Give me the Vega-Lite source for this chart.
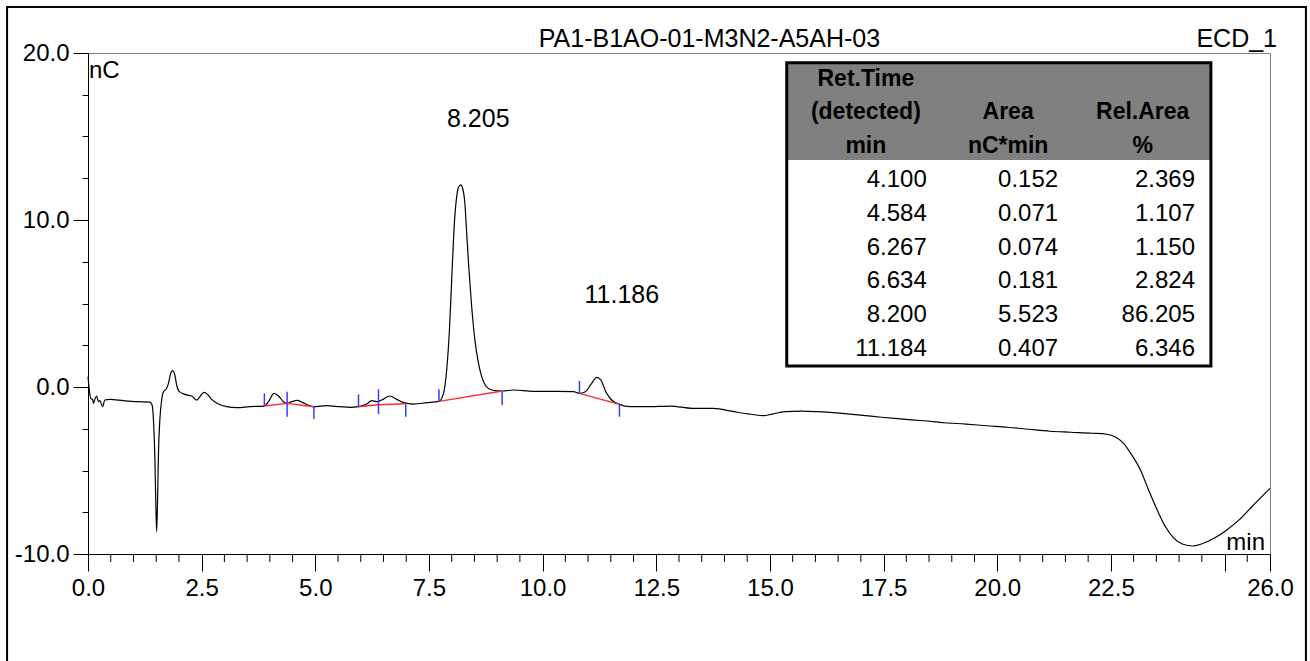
{
  "$schema": "https://vega.github.io/schema/vega-lite/v6.json",
  "width": 1182,
  "height": 501,
  "autosize": "none",
  "padding": {"left": 88, "top": 53, "right": 40, "bottom": 107},
  "background": "white",
  "config": {
    "view": {"stroke": "#808080", "strokeWidth": 1},
    "axis": {"domainColor": "black", "tickColor": "black", "labelColor": "black", "labelFont": "Liberation Sans", "labelFontSize": 24, "grid": false, "labelOverlap": false, "labelFlush": false, "labelBound": false},
    "text": {"font": "Liberation Sans", "color": "black"}
  },
  "data": {"values": [{}]},
  "datasets": {
    "trace": [
      {"t":0.00,"v":0.62},{"t":0.03,"v":-0.18},{"t":0.06,"v":-0.68},{"t":0.10,"v":-0.74},{"t":0.12,"v":-0.98},{"t":0.15,"v":-0.74},{"t":0.19,"v":-0.54},{"t":0.23,"v":-0.88},{"t":0.26,"v":-0.82},{"t":0.32,"v":-1.18},{"t":0.37,"v":-0.78},{"t":0.48,"v":-0.74},{"t":0.78,"v":-0.82},{"t":1.07,"v":-0.88},{"t":1.36,"v":-0.90},{"t":1.41,"v":-1.08},{"t":1.44,"v":-1.98},{"t":1.47,"v":-4.17},{"t":1.49,"v":-6.77},{"t":1.51,"v":-8.66},{"t":1.53,"v":-6.77},{"t":1.55,"v":-3.97},{"t":1.58,"v":-1.98},{"t":1.62,"v":-0.78},{"t":1.66,"v":-0.28},{"t":1.72,"v":-0.12},{"t":1.77,"v":0.22},{"t":1.82,"v":0.82},{"t":1.86,"v":0.98},{"t":1.91,"v":0.72},{"t":1.95,"v":0.12},{"t":2.01,"v":-0.28},{"t":2.13,"v":-0.44},{"t":2.28,"v":-0.54},{"t":2.39,"v":-0.78},{"t":2.46,"v":-0.58},{"t":2.55,"v":-0.32},{"t":2.63,"v":-0.44},{"t":2.72,"v":-0.74},{"t":2.87,"v":-1.02},{"t":3.05,"v":-1.18},{"t":3.27,"v":-1.24},{"t":3.56,"v":-1.18},{"t":3.87,"v":-1.14},{"t":3.97,"v":-0.88},{"t":4.09,"v":-0.38},{"t":4.19,"v":-0.54},{"t":4.30,"v":-0.88},{"t":4.38,"v":-0.98},{"t":4.48,"v":-0.88},{"t":4.60,"v":-0.80},{"t":4.72,"v":-0.92},{"t":4.85,"v":-1.10},{"t":4.97,"v":-1.18},{"t":5.25,"v":-1.12},{"t":5.54,"v":-1.18},{"t":5.76,"v":-1.22},{"t":5.95,"v":-1.18},{"t":6.13,"v":-1.02},{"t":6.24,"v":-0.82},{"t":6.35,"v":-0.88},{"t":6.46,"v":-0.78},{"t":6.64,"v":-0.54},{"t":6.79,"v":-0.74},{"t":6.94,"v":-0.94},{"t":7.16,"v":-1.02},{"t":7.45,"v":-0.94},{"t":7.72,"v":-0.86},{"t":7.82,"v":-0.38},{"t":7.89,"v":1.02},{"t":7.95,"v":3.41},{"t":8.00,"v":6.41},{"t":8.05,"v":9.40},{"t":8.11,"v":11.40},{"t":8.15,"v":11.96},{"t":8.20,"v":12.10},{"t":8.24,"v":11.90},{"t":8.29,"v":11.00},{"t":8.33,"v":9.20},{"t":8.38,"v":7.01},{"t":8.44,"v":4.81},{"t":8.51,"v":2.81},{"t":8.59,"v":1.42},{"t":8.66,"v":0.62},{"t":8.75,"v":0.06},{"t":8.88,"v":-0.18},{"t":9.11,"v":-0.24},{"t":9.36,"v":-0.18},{"t":9.80,"v":-0.26},{"t":10.31,"v":-0.26},{"t":10.68,"v":-0.28},{"t":10.81,"v":-0.38},{"t":10.93,"v":-0.30},{"t":11.08,"v":0.22},{"t":11.19,"v":0.58},{"t":11.28,"v":0.42},{"t":11.39,"v":-0.28},{"t":11.52,"v":-0.78},{"t":11.69,"v":-1.04},{"t":11.92,"v":-1.18},{"t":12.29,"v":-1.18},{"t":12.82,"v":-1.14},{"t":13.29,"v":-1.28},{"t":13.75,"v":-1.28},{"t":14.21,"v":-1.48},{"t":14.58,"v":-1.63},{"t":14.86,"v":-1.72},{"t":15.05,"v":-1.62},{"t":15.33,"v":-1.48},{"t":15.70,"v":-1.44},{"t":16.06,"v":-1.48},{"t":16.53,"v":-1.57},{"t":16.99,"v":-1.68},{"t":17.45,"v":-1.81},{"t":17.92,"v":-1.92},{"t":18.38,"v":-2.02},{"t":18.84,"v":-2.14},{"t":19.31,"v":-2.22},{"t":19.77,"v":-2.32},{"t":20.23,"v":-2.41},{"t":20.69,"v":-2.53},{"t":21.16,"v":-2.65},{"t":21.62,"v":-2.71},{"t":22.09,"v":-2.77},{"t":22.41,"v":-2.83},{"t":22.59,"v":-2.98},{"t":22.78,"v":-3.37},{"t":22.96,"v":-4.07},{"t":23.15,"v":-4.97},{"t":23.33,"v":-6.17},{"t":23.52,"v":-7.37},{"t":23.70,"v":-8.37},{"t":23.89,"v":-9.06},{"t":24.07,"v":-9.40},{"t":24.31,"v":-9.52},{"t":24.49,"v":-9.40},{"t":24.77,"v":-9.06},{"t":25.05,"v":-8.56},{"t":25.32,"v":-7.96},{"t":25.60,"v":-7.17},{"t":26.00,"v":-6.07}
    ],
    "minorticks": [
      {"t":0.5},{"t":1},{"t":1.5},{"t":2},{"t":3},{"t":3.5},{"t":4},{"t":4.5},{"t":5.5},{"t":6},{"t":6.5},{"t":7},{"t":8},{"t":8.5},{"t":9},{"t":9.5},{"t":10.5},{"t":11},{"t":11.5},{"t":12},{"t":13},{"t":13.5},{"t":14},{"t":14.5},{"t":15.5},{"t":16},{"t":16.5},{"t":17},{"t":18},{"t":18.5},{"t":19},{"t":19.5},{"t":20.5},{"t":21},{"t":21.5},{"t":22},{"t":23},{"t":23.5},{"t":24},{"t":24.5},{"t":25.5}
    ],
    "baselines": [
      {"seg":"A","t":3.87,"v":-1.14},{"seg":"A","t":4.38,"v":-0.98},{"seg":"A","t":4.97,"v":-1.18},
      {"seg":"B","t":5.95,"v":-1.18},{"seg":"B","t":6.39,"v":-1.06},{"seg":"B","t":6.99,"v":-1.00},
      {"seg":"C","t":7.72,"v":-0.86},{"seg":"C","t":9.11,"v":-0.24},
      {"seg":"D","t":10.81,"v":-0.38},{"seg":"D","t":11.69,"v":-1.04}
    ],
    "delimiters": [
      {"t":3.88,"top":-0.38,"bottom":-1.14},
      {"t":4.38,"top":-0.28,"bottom":-1.78},
      {"t":4.97,"top":-1.14,"bottom":-1.92},
      {"t":5.95,"top":-0.44,"bottom":-1.18},
      {"t":6.39,"top":-0.14,"bottom":-1.62},
      {"t":6.99,"top":-1.04,"bottom":-1.78},
      {"t":7.72,"top":-0.14,"bottom":-0.88},
      {"t":9.11,"top":-0.28,"bottom":-1.08},
      {"t":10.81,"top":0.36,"bottom":-0.42},
      {"t":11.69,"top":-1.04,"bottom":-1.78}
    ],
    "peaklabels": [
      {"rt":8.205,"apex":12.10,"label":"8.205"},
      {"rt":11.186,"apex":0.58,"label":"11.186"}
    ],
    "peaks": [
      {"No":1,"rt":4.100,"area":0.152,"rel":2.369},
      {"No":2,"rt":4.584,"area":0.071,"rel":1.107},
      {"No":3,"rt":6.267,"area":0.074,"rel":1.150},
      {"No":4,"rt":6.634,"area":0.181,"rel":2.824},
      {"No":5,"rt":8.200,"area":5.523,"rel":86.205},
      {"No":6,"rt":11.184,"area":0.407,"rel":6.346}
    ]
  },
  "resolve": {"scale": {"y": "independent"}},
  "layer": [
    {
      "layer": [
        {
          "mark": {"type": "rect", "fill": "white", "fillOpacity": 0, "stroke": "black", "strokeWidth": 2},
          "encoding": {
            "x": {"datum": -1.78}, "x2": {"datum": 26.79},
            "y": {"datum": 22.75}, "y2": {"datum": -20}
          }
        },
        {
          "data": {"name": "trace"},
          "mark": {"type": "line", "color": "black", "strokeWidth": 1.2, "interpolate": "monotone"},
          "encoding": {
            "x": {
              "field": "t", "type": "quantitative",
              "scale": {"domain": [0, 26], "nice": false, "zero": false},
              "axis": {
                "title": null,
                "labelOverlap": false,
                "values": [0,2.5,5,7.5,10,12.5,15,17.5,20,22.5,25,26],
                "tickSize": 17,
                "labelExpr": "datum.value === 25 ? '' : format(datum.value, '.1f')",
                "labelPadding": 5
              }
            },
            "y": {
              "field": "v", "type": "quantitative",
              "scale": {"domain": [-10, 20], "nice": false, "zero": false},
              "axis": {
                "title": null,
                "labelOverlap": false,
                "values": [-10,-7.5,-5,-2.5,0,2.5,5,7.5,10,12.5,15,17.5,20],
                "tickSize": {"condition": {"test": "round(datum.value * 10) % 100 === 0", "value": 15}, "value": 6},
                "labelExpr": "round(datum.value * 10) % 100 === 0 ? (datum.value < 0 ? '-' : '') + format(abs(datum.value), '.1f') : ''",
                "labelPadding": 4
              }
            }
          }
        },
        {
          "data": {"name": "minorticks"},
          "mark": {"type": "tick", "orient": "vertical", "size": 8, "thickness": 1, "color": "black", "yOffset": 4, "opacity": 1},
          "encoding": {
            "x": {"field": "t", "type": "quantitative"},
            "y": {"datum": -10}
          }
        },
        {
          "data": {"name": "baselines"},
          "mark": {"type": "line", "color": "#ff2a2a", "strokeWidth": 1.4},
          "encoding": {
            "x": {"field": "t", "type": "quantitative"},
            "y": {"field": "v", "type": "quantitative"},
            "detail": {"field": "seg"}
          }
        },
        {
          "data": {"name": "delimiters"},
          "mark": {"type": "rule", "color": "#3a3aff", "strokeWidth": 1.5},
          "encoding": {
            "x": {"field": "t", "type": "quantitative"},
            "y": {"field": "top", "type": "quantitative"},
            "y2": {"field": "bottom"}
          }
        },
        {
          "data": {"name": "peaklabels"},
          "transform": [{"filter": "datum.rt < 10"}],
          "mark": {"type": "text", "align": "left", "baseline": "alphabetic", "fontSize": 25, "dx": -14, "dy": -58},
          "encoding": {
            "x": {"field": "rt", "type": "quantitative"},
            "y": {"field": "apex", "type": "quantitative"},
            "text": {"field": "label"}
          }
        },
        {
          "data": {"name": "peaklabels"},
          "transform": [{"filter": "datum.rt > 10"}],
          "mark": {"type": "text", "align": "left", "baseline": "alphabetic", "fontSize": 25, "dx": -12, "dy": -74},
          "encoding": {
            "x": {"field": "rt", "type": "quantitative"},
            "y": {"field": "apex", "type": "quantitative"},
            "text": {"field": "label"}
          }
        },
        {
          "mark": {"type": "text", "align": "left", "baseline": "alphabetic", "fontSize": 24, "dx": 1, "dy": 25, "text": "nC"},
          "encoding": {"x": {"datum": 0}, "y": {"datum": 20}}
        },
        {
          "mark": {"type": "text", "align": "right", "baseline": "alphabetic", "fontSize": 24, "dx": -5, "dy": -4, "text": "min"},
          "encoding": {"x": {"datum": 26}, "y": {"datum": -10}}
        },
        {
          "mark": {"type": "text", "align": "center", "baseline": "alphabetic", "fontSize": 25, "dy": -6, "text": "PA1-B1AO-01-M3N2-A5AH-03"},
          "encoding": {"x": {"datum": 13.67}, "y": {"datum": 20}}
        },
        {
          "mark": {"type": "text", "align": "right", "baseline": "alphabetic", "fontSize": 25, "dx": 7, "dy": -6, "text": "ECD_1"},
          "encoding": {"x": {"datum": 26}, "y": {"datum": 20}}
        }
      ]
    },
    {
      "layer": [
        {
          "mark": {"type": "rect", "fill": "#808080"},
          "encoding": {
            "x": {"datum": 15.37}, "x2": {"datum": 24.70},
            "y": {"datum": -2.47, "scale": {"domain": [-2.757, 12.065], "reverse": true, "nice": false, "zero": false}, "axis": null},
            "y2": {"datum": 0.41}
          }
        },
        {
          "mark": {"type": "text", "align": "center", "baseline": "middle", "fontSize": 23, "fontWeight": "bold", "lineHeight": 33.8, "text": ["Ret.Time", "(detected)", "min"]},
          "encoding": {"x": {"datum": 17.11}, "y": {"datum": -2}}
        },
        {
          "mark": {"type": "text", "align": "center", "baseline": "middle", "fontSize": 23, "fontWeight": "bold", "lineHeight": 33.8, "text": ["Area", "nC*min"]},
          "encoding": {"x": {"datum": 20.24}, "y": {"datum": -1}}
        },
        {
          "mark": {"type": "text", "align": "center", "baseline": "middle", "fontSize": 23, "fontWeight": "bold", "lineHeight": 33.8, "text": ["Rel.Area", "%"]},
          "encoding": {"x": {"datum": 23.20}, "y": {"datum": -1}}
        },
        {
          "data": {"name": "peaks"},
          "mark": {"type": "text", "align": "right", "baseline": "middle", "fontSize": 24},
          "encoding": {
            "x": {"datum": 18.45},
            "y": {"field": "No", "type": "quantitative"},
            "text": {"field": "rt", "type": "quantitative", "format": ".3f"}
          }
        },
        {
          "data": {"name": "peaks"},
          "mark": {"type": "text", "align": "right", "baseline": "middle", "fontSize": 24},
          "encoding": {
            "x": {"datum": 21.34},
            "y": {"field": "No", "type": "quantitative"},
            "text": {"field": "area", "type": "quantitative", "format": ".3f"}
          }
        },
        {
          "data": {"name": "peaks"},
          "mark": {"type": "text", "align": "right", "baseline": "middle", "fontSize": 24},
          "encoding": {
            "x": {"datum": 24.35},
            "y": {"field": "No", "type": "quantitative"},
            "text": {"field": "rel", "type": "quantitative", "format": ".3f"}
          }
        },
        {
          "mark": {"type": "rect", "fill": "white", "fillOpacity": 0, "stroke": "black", "strokeWidth": 3},
          "encoding": {
            "x": {"datum": 15.37}, "x2": {"datum": 24.70},
            "y": {"datum": -2.47}, "y2": {"datum": 6.503}
          }
        }
      ]
    }
  ]
}
